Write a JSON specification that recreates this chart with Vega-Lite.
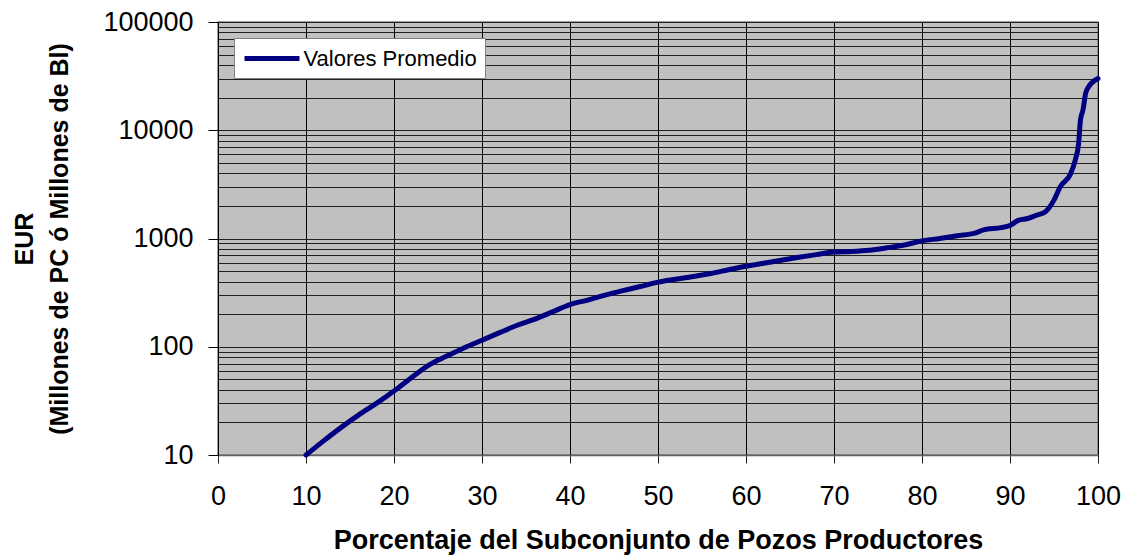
{
  "$schema": "https://vega.github.io/schema/vega-lite/v6.json",
  "width": 880,
  "height": 433,
  "autosize": {"type": "none"},
  "padding": {"left": 218, "top": 22, "right": 39, "bottom": 100},
  "background": "white",
  "config": {
    "font": "Liberation Sans",
    "view": {"fill": "#C0C0C0", "stroke": "#808080", "strokeWidth": 1.5},
    "axis": {"labelFont": "Liberation Sans", "titleFont": "Liberation Sans", "labelColor": "black", "titleColor": "black"}
  },
  "data": {
    "values": [
      {"pct": 10, "eur": 10, "serie": "Valores Promedio"},
      {"pct": 12, "eur": 13.5, "serie": "Valores Promedio"},
      {"pct": 14, "eur": 18, "serie": "Valores Promedio"},
      {"pct": 16, "eur": 23.5, "serie": "Valores Promedio"},
      {"pct": 18, "eur": 30, "serie": "Valores Promedio"},
      {"pct": 20, "eur": 39, "serie": "Valores Promedio"},
      {"pct": 22, "eur": 52, "serie": "Valores Promedio"},
      {"pct": 24, "eur": 68, "serie": "Valores Promedio"},
      {"pct": 26, "eur": 82, "serie": "Valores Promedio"},
      {"pct": 28, "eur": 98, "serie": "Valores Promedio"},
      {"pct": 30, "eur": 115, "serie": "Valores Promedio"},
      {"pct": 32, "eur": 135, "serie": "Valores Promedio"},
      {"pct": 34, "eur": 158, "serie": "Valores Promedio"},
      {"pct": 36, "eur": 180, "serie": "Valores Promedio"},
      {"pct": 38, "eur": 210, "serie": "Valores Promedio"},
      {"pct": 40, "eur": 245, "serie": "Valores Promedio"},
      {"pct": 42, "eur": 270, "serie": "Valores Promedio"},
      {"pct": 44, "eur": 300, "serie": "Valores Promedio"},
      {"pct": 46, "eur": 330, "serie": "Valores Promedio"},
      {"pct": 48, "eur": 360, "serie": "Valores Promedio"},
      {"pct": 50, "eur": 395, "serie": "Valores Promedio"},
      {"pct": 52, "eur": 420, "serie": "Valores Promedio"},
      {"pct": 54, "eur": 445, "serie": "Valores Promedio"},
      {"pct": 56, "eur": 475, "serie": "Valores Promedio"},
      {"pct": 58, "eur": 515, "serie": "Valores Promedio"},
      {"pct": 60, "eur": 555, "serie": "Valores Promedio"},
      {"pct": 62, "eur": 590, "serie": "Valores Promedio"},
      {"pct": 64, "eur": 630, "serie": "Valores Promedio"},
      {"pct": 66, "eur": 670, "serie": "Valores Promedio"},
      {"pct": 68, "eur": 710, "serie": "Valores Promedio"},
      {"pct": 70, "eur": 750, "serie": "Valores Promedio"},
      {"pct": 72, "eur": 760, "serie": "Valores Promedio"},
      {"pct": 74, "eur": 780, "serie": "Valores Promedio"},
      {"pct": 76, "eur": 820, "serie": "Valores Promedio"},
      {"pct": 78, "eur": 870, "serie": "Valores Promedio"},
      {"pct": 80, "eur": 950, "serie": "Valores Promedio"},
      {"pct": 82, "eur": 1000, "serie": "Valores Promedio"},
      {"pct": 84, "eur": 1060, "serie": "Valores Promedio"},
      {"pct": 86, "eur": 1120, "serie": "Valores Promedio"},
      {"pct": 87, "eur": 1200, "serie": "Valores Promedio"},
      {"pct": 89, "eur": 1260, "serie": "Valores Promedio"},
      {"pct": 90, "eur": 1320, "serie": "Valores Promedio"},
      {"pct": 91, "eur": 1480, "serie": "Valores Promedio"},
      {"pct": 92, "eur": 1530, "serie": "Valores Promedio"},
      {"pct": 93, "eur": 1640, "serie": "Valores Promedio"},
      {"pct": 94, "eur": 1760, "serie": "Valores Promedio"},
      {"pct": 95, "eur": 2260, "serie": "Valores Promedio"},
      {"pct": 95.7, "eur": 3000, "serie": "Valores Promedio"},
      {"pct": 96.9, "eur": 3990, "serie": "Valores Promedio"},
      {"pct": 97.4, "eur": 5250, "serie": "Valores Promedio"},
      {"pct": 97.8, "eur": 7600, "serie": "Valores Promedio"},
      {"pct": 98, "eur": 12300, "serie": "Valores Promedio"},
      {"pct": 98.3, "eur": 15500, "serie": "Valores Promedio"},
      {"pct": 98.6, "eur": 22000, "serie": "Valores Promedio"},
      {"pct": 98.9, "eur": 25000, "serie": "Valores Promedio"},
      {"pct": 100, "eur": 30000, "serie": "Valores Promedio"}
    ]
  },
  "mark": {"type": "line", "strokeWidth": 5, "strokeCap": "round", "strokeJoin": "round", "interpolate": "monotone"},
  "encoding": {
    "x": {
      "field": "pct", "type": "quantitative",
      "scale": {"domain": [0, 100], "nice": false},
      "axis": {
        "values": [0, 10, 20, 30, 40, 50, 60, 70, 80, 90, 100],
        "title": "Porcentaje del Subconjunto de Pozos Productores",
        "titleFontSize": 27, "titleFontWeight": "bold", "titlePadding": 18,
        "labelFontSize": 27, "labelPadding": 20, "labelFlush": false,
        "grid": true, "gridColor": "black", "gridOpacity": 1, "gridWidth": 1,
        "domain": true, "domainColor": "#606060", "domainWidth": 1.5,
        "tickColor": "#202020", "tickSize": 8
      }
    },
    "y": {
      "field": "eur", "type": "quantitative",
      "scale": {"type": "log", "domain": [10, 100000], "nice": false},
      "axis": {
        "values": [10, 20, 30, 40, 50, 60, 70, 80, 90, 100, 200, 300, 400, 500, 600, 700, 800, 900, 1000, 2000, 3000, 4000, 5000, 6000, 7000, 8000, 9000, 10000, 20000, 30000, 40000, 50000, 60000, 70000, 80000, 90000, 100000],
        "labelExpr": "indexof([10, 100, 1000, 10000, 100000], datum.value) >= 0 ? format(datum.value, 'd') : ''",
        "title": ["EUR", "(Millones de PC ó Millones de Bl)"],
        "titleFontSize": 25, "titleFontWeight": "bold", "titleLineHeight": 35, "titlePadding": 30,
        "labelFontSize": 27, "labelPadding": 15, "labelFlush": false, "labelOverlap": false,
        "grid": true, "gridColor": "#202020", "gridOpacity": 1, "gridWidth": 1,
        "domain": true, "domainColor": "black", "domainWidth": 1,
        "tickColor": "black", "tickSize": 10,
        "tickOpacity": {"condition": {"test": "indexof([10, 100, 1000, 10000, 100000], datum.value) >= 0", "value": 1}, "value": 0}
      }
    },
    "color": {
      "field": "serie", "type": "nominal",
      "scale": {"range": ["#000080"]},
      "legend": {
        "title": null, "orient": "none", "legendX": 16, "legendY": 16,
        "fillColor": "white", "strokeColor": "#808080", "padding": 8,
        "symbolType": "M-2.75,0H2.75", "symbolStrokeWidth": 5, "symbolSize": 400, "symbolOffset": 17.5,
        "labelFontSize": 22, "labelFont": "Liberation Sans", "labelColor": "black", "labelOffset": 19, "labelLimit": 400
      }
    }
  }
}
